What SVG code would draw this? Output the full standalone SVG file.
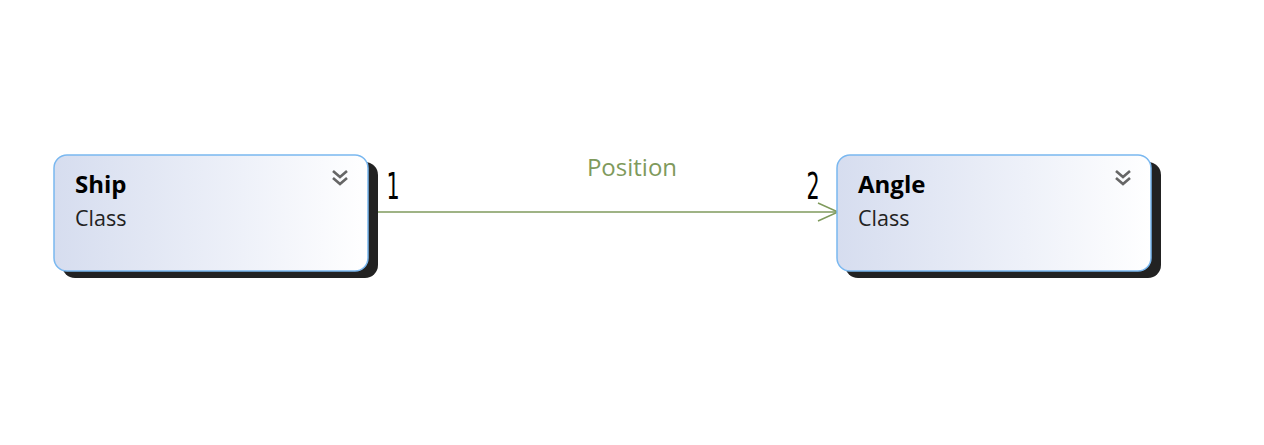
<svg xmlns="http://www.w3.org/2000/svg" width="1264" height="445" viewBox="0 0 1264 445">
<style>
.title{font-family:"Open Sans","Liberation Sans",sans-serif;font-weight:bold;font-size:24px;fill:#000}
.sub{font-family:"Open Sans","Liberation Sans",sans-serif;font-size:21.5px;fill:#222}
.mult{font-family:"DejaVu Sans Condensed","Liberation Sans Narrow","Liberation Sans",sans-serif;font-size:37px;fill:#000}
.lbl{font-family:"Open Sans","Liberation Sans",sans-serif;font-size:24px;fill:#7f9a5c}
.box{fill:url(#g);stroke:#7ab8f0;stroke-width:1.5}
.shadow{fill:#222}
.chev{fill:none;stroke:#666;stroke-width:2.6}
</style>
<defs>
<linearGradient id="g" x1="0" y1="0" x2="1" y2="0">
<stop offset="0" stop-color="#d6ddef"/>
<stop offset="0.6" stop-color="#eef1f9"/>
<stop offset="1" stop-color="#ffffff"/>
</linearGradient>
<marker id="arr" markerWidth="24" markerHeight="24" refX="21" refY="10" orient="auto" markerUnits="userSpaceOnUse">
<path d="M1,1 L21,10 L1,19" fill="none" stroke="#7f9a5c" stroke-width="1.5"/>
</marker>
</defs>
<g id="connectors">
<line x1="368" y1="212" x2="838" y2="212" stroke="#7f9a5c" stroke-width="1.5" marker-end="url(#arr)"/>
<text class="lbl" x="632" y="176" text-anchor="middle">Position</text>
<text class="mult" x="393" y="199" text-anchor="middle" transform="translate(393 0) scale(0.62 1) translate(-393 0)">1</text>
<text class="mult" x="813" y="199" text-anchor="middle" transform="translate(813 0) scale(0.62 1) translate(-813 0)">2</text>
</g>
<g id="ship">
<rect class="shadow" x="62" y="162" width="316" height="116" rx="13"/>
<rect class="box" x="54" y="155" width="314" height="116" rx="13"/>
<text class="title" x="75" y="193">Ship</text>
<text class="sub" x="75" y="226">Class</text>
<path class="chev" d="M333,171 L340,177 L347,171 M333,178 L340,184 L347,178"/>
</g>
<g id="angle">
<rect class="shadow" x="845" y="162" width="316" height="116" rx="13"/>
<rect class="box" x="837" y="155" width="314" height="116" rx="13"/>
<text class="title" x="858" y="193">Angle</text>
<text class="sub" x="858" y="226">Class</text>
<path class="chev" d="M1116,171 L1123,177 L1130,171 M1116,178 L1123,184 L1130,178"/>
</g>
</svg>
